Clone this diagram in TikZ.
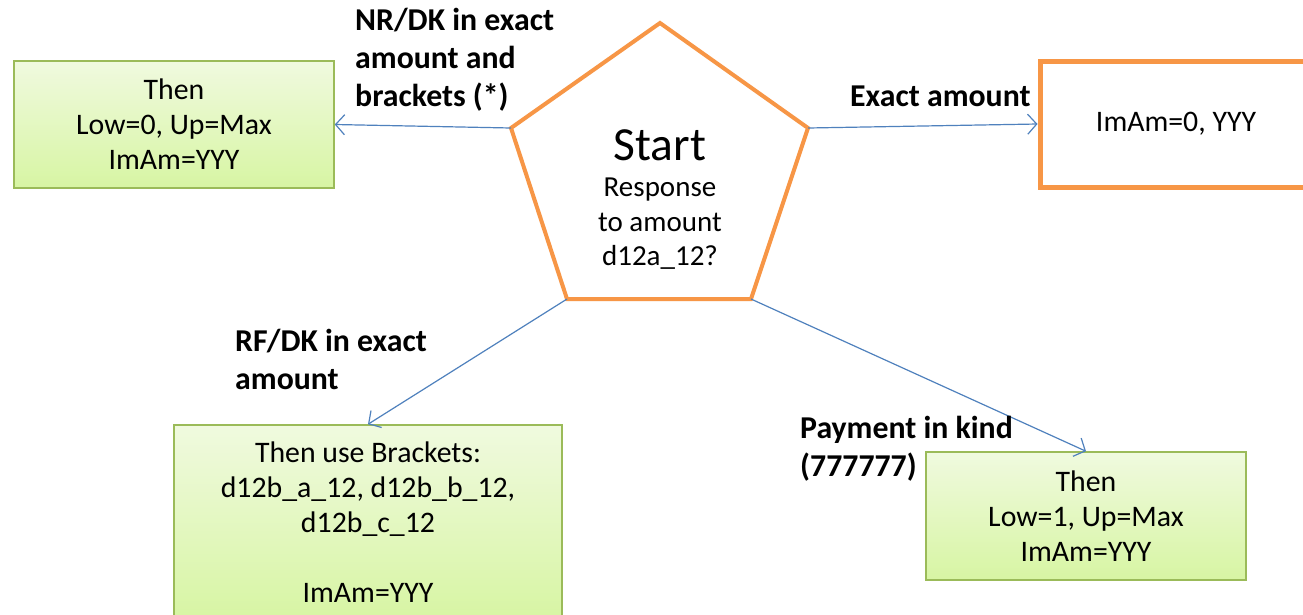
\documentclass[tikz,border=0pt]{standalone}
\usepackage{fontspec}
\setmainfont{Carlito}
\usetikzlibrary{arrows.meta}
\definecolor{orng}{HTML}{F79646}
\definecolor{grnb}{HTML}{9BBB59}
\definecolor{blu}{HTML}{4F81BD}
\definecolor{gtop}{HTML}{F0FADF}
\definecolor{gbot}{HTML}{D7F5A3}
\tikzset{
  gbox/.style={draw=grnb, line width=1.5pt, top color=gtop, bottom color=gbot,
    align=center, inner sep=0pt, font=\fontsize{29.8}{35}\selectfont},
  obox/.style={draw=orng, line width=5pt, fill=white, align=center, inner sep=0pt,
    font=\fontsize{29.8}{35}\selectfont},
  lbl/.style={align=left, inner sep=0pt, font=\bfseries\fontsize{31.8}{38}\selectfont},
  conn/.style={draw=blu, line width=1.2pt, -{Straight Barb[length=9pt,width=20pt]}},
  penta/.style={draw=orng, line width=4pt, line join=miter}
}
\begin{document}
\begin{tikzpicture}[x=1pt,y=-1pt]
\useasboundingbox (0,0) rectangle (1303,614);
\clip (0,0) rectangle (1303,614);
\fill[white] (0,0) rectangle (1303,614);
% pentagon
\coordinate (pT) at (660,23);
\coordinate (pR) at (808,128);
\coordinate (pBR) at (751,299);
\coordinate (pBL) at (567,299);
\coordinate (pL) at (511,128);
\draw[penta] (pT) -- (pR) -- (pBR) -- (pBL) -- (pL) -- cycle;
\node[inner sep=0pt, font=\fontsize{47.5}{50}\selectfont] (start) at (660,145) {Start};
\node[inner sep=0pt, align=center, font=\fontsize{29}{34.5}\selectfont] (resp) at (660,224) {Response\\to amount\\d12a\_12?};
% boxes
\node[gbox, minimum width=320pt, minimum height=127pt] (lbox) at (174,124.5) {Then\\Low=0, Up=Max\\ImAm=YYY};
\node[obox, minimum width=272pt, minimum height=126pt] (rbox) at (1176,124) {ImAm=0, YYY};
\node[gbox, minimum width=388pt, minimum height=195pt] (blbox) at (368,522.5) {Then use Brackets:\\d12b\_a\_12, d12b\_b\_12,\\d12b\_c\_12\\[35pt]ImAm=YYY};
\node[gbox, minimum width=320pt, minimum height=128pt] (brbox) at (1086,516) {Then\\Low=1, Up=Max\\ImAm=YYY};
% connectors
\draw[conn] (pL) -- (lbox.east);
\draw[conn] (pR) -- (rbox.west);
\draw[conn] (pBL) -- (blbox.north);
\draw[conn] (pBR) -- (brbox.north);
% labels
\node[lbl, anchor=west] (l1) at (355,60) {NR/DK in exact\\amount and\\brackets (*)};
\node[lbl, anchor=west] (l2) at (850,96) {Exact amount};
\node[lbl, anchor=west] (l3) at (235,359.5) {RF/DK in exact\\amount};
\node[lbl, anchor=west] (l4) at (800,449) {Payment in kind\\(777777)};
\end{tikzpicture}
\end{document}
